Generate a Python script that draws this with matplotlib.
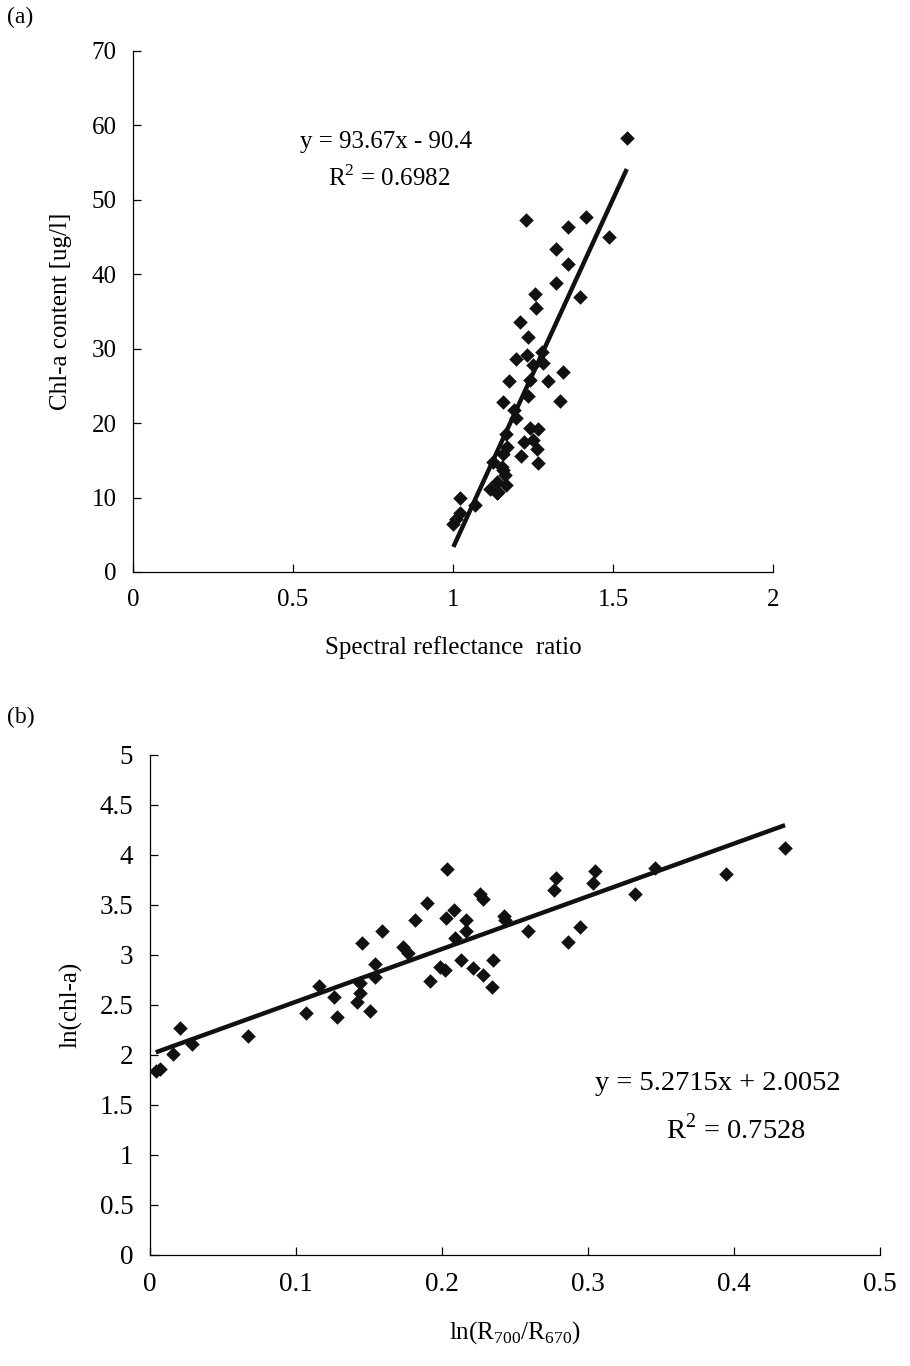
import numpy as np
import matplotlib
matplotlib.use('Agg')
import matplotlib.pyplot as plt

# panel (a): spectral reflectance ratio vs chl-a content
ratio_a = [1.543, 1.228, 1.416, 1.358, 1.4875, 1.322, 1.358, 1.322, 1.397, 1.257,
           1.259, 1.209, 1.233, 1.277, 1.197, 1.230, 1.251, 1.282, 1.345, 1.298,
           1.175, 1.241, 1.235, 1.334, 1.157, 1.192, 1.197, 1.241, 1.267, 1.167,
           1.223, 1.251, 1.261, 1.170, 1.212, 1.264, 1.155, 1.126, 1.152, 1.1625,
           1.136, 1.167, 1.116, 1.141, 1.022, 1.069, 1.022, 1.009, 1.001, 1.157,
           1.136]
chla_a = [58.3, 47.3, 47.7, 46.4, 45.0, 43.4, 41.4, 38.8, 37.0, 37.4,
          35.4, 33.6, 31.6, 29.5, 28.6, 29.2, 27.8, 28.1, 26.8, 25.7,
          25.7, 25.8, 23.6, 23.0, 22.9, 21.8, 20.7, 19.3, 19.2, 18.6,
          17.5, 17.7, 16.5, 16.8, 15.6, 14.7, 15.9, 14.8, 14.1, 13.0,
          12.1, 11.7, 11.2, 10.8, 9.9, 9.0, 7.9, 7.1, 6.4, 13.7,
          10.6]
slope_a, icpt_a = 93.67, -90.4

# panel (b): ln(R700/R670) vs ln(chl-a)
lnr_b = [0.004, 0.007, 0.016, 0.0205, 0.0286, 0.0673, 0.1066, 0.116, 0.126, 0.128,
         0.1416, 0.144, 0.144, 0.151, 0.154, 0.154, 0.145, 0.159, 0.1735, 0.1765,
         0.1815, 0.1895, 0.1918, 0.1986, 0.202, 0.2025, 0.2037, 0.208, 0.209, 0.2128,
         0.2164, 0.2164, 0.2215, 0.226, 0.228, 0.228, 0.234, 0.235, 0.2425, 0.243,
         0.259, 0.277, 0.278, 0.2865, 0.2945, 0.3036, 0.305, 0.332, 0.346, 0.3945,
         0.435]
lnchl_b = [1.84, 1.86, 2.01, 2.27, 2.11, 2.19, 2.42, 2.69, 2.58, 2.38,
           2.53, 2.62, 2.72, 2.44, 2.78, 2.91, 3.12, 3.24, 3.08, 3.02,
           3.35, 3.52, 2.74, 2.88, 2.85, 3.37, 3.86, 3.45, 3.17, 2.95,
           3.35, 3.24, 2.87, 3.61, 3.56, 2.80, 2.68, 2.95, 3.39, 3.35,
           3.24, 3.65, 3.77, 3.13, 3.28, 3.72, 3.84, 3.61, 3.87, 3.81,
           4.07]
slope_b, icpt_b = 5.2715, 2.0052

plt.rcParams['font.family'] = ['Liberation Serif', 'DejaVu Serif']
plt.rcParams['mathtext.fontset'] = 'custom'
plt.rcParams['mathtext.rm'] = 'Liberation Serif'

fig = plt.figure(figsize=(9.1, 13.66), dpi=100)
ax_a = fig.add_axes([0.1462, 0.5813, 0.7033, 0.3814])
ax_b = fig.add_axes([0.1648, 0.0813, 0.8022, 0.3660])


def style_axes(ax, labelsize):
    for s in ['top', 'right']:
        ax.spines[s].set_visible(False)
    for s in ['left', 'bottom']:
        ax.spines[s].set_linewidth(0.9)
    ax.tick_params(direction='in', length=6, width=0.9, labelsize=labelsize, pad=12)


def scatter_fit(ax, xs, ys, slope, icpt):
    ax.scatter(xs, ys, marker='D', s=55, color='#111111', zorder=3, linewidths=0)
    xl = np.array([min(xs), max(xs)])
    ax.plot(xl, slope * xl + icpt, color='#111111', lw=3.2, zorder=2,
            solid_capstyle='butt')


scatter_fit(ax_a, ratio_a, chla_a, slope_a, icpt_a)
style_axes(ax_a, 18)
ax_a.set_xlim(0, 2)
ax_a.set_ylim(0, 70)
ax_a.set_xticks([0, 0.5, 1, 1.5, 2])
ax_a.set_xticklabels(['0', '0.5', '1', '1.5', '2'])
ax_a.set_yticks(range(0, 71, 10))
ax_a.set_xlabel('Spectral reflectance  ratio', fontsize=18, labelpad=18)
ax_a.set_ylabel('Chl-a content [ug/l]', fontsize=18, labelpad=14)
ax_a.text(0.79, 57.8, 'y = 93.67x - 90.4', fontsize=18, ha='center', va='center')
ax_a.text(0.80, 52.9, 'R$^2$ = 0.6982', fontsize=18, ha='center', va='center')
fig.text(0.008, 0.987, '(a)', fontsize=17, ha='left', va='center')

scatter_fit(ax_b, lnr_b, lnchl_b, slope_b, icpt_b)
style_axes(ax_b, 19.5)
ax_b.set_xlim(0, 0.5)
ax_b.set_ylim(0, 5)
ax_b.set_xticks([0, 0.1, 0.2, 0.3, 0.4, 0.5])
ax_b.set_xticklabels(['0', '0.1', '0.2', '0.3', '0.4', '0.5'])
ax_b.set_yticks(np.arange(0, 5.01, 0.5))
ax_b.set_yticklabels(['0', '0.5', '1', '1.5', '2', '2.5', '3', '3.5', '4', '4.5', '5'])
ax_b.set_xlabel('ln(R$_{700}$/R$_{670}$)', fontsize=18, labelpad=16)
ax_b.set_ylabel('ln(chl-a)', fontsize=18, labelpad=12)
ax_b.text(0.389, 1.71, 'y = 5.2715x + 2.0052', fontsize=20.5, ha='center', va='center')
ax_b.text(0.401, 1.26, 'R$^2$ = 0.7528', fontsize=20.5, ha='center', va='center')
fig.text(0.008, 0.475, '(b)', fontsize=17, ha='left', va='center')

fig.savefig('out.png', dpi=100)
